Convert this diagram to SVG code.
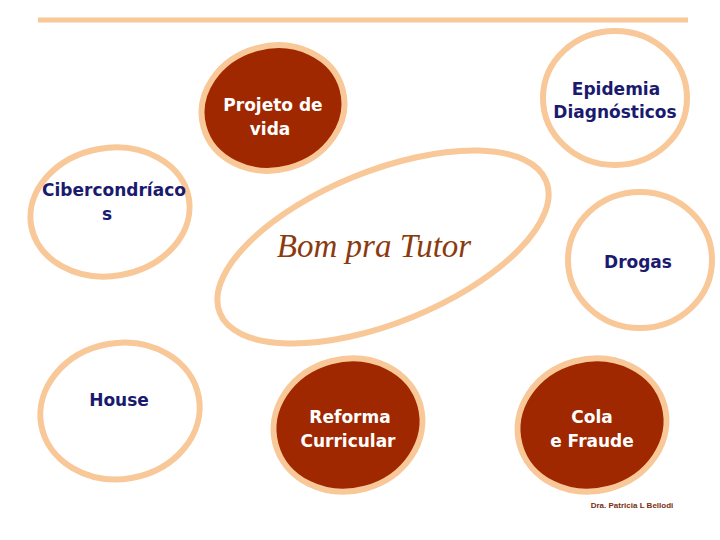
<svg xmlns="http://www.w3.org/2000/svg" width="720" height="540" viewBox="0 0 720 540">
<style>
.o{fill:#fff;stroke:#F8C898;stroke-width:6}
.f{fill:#A02800;stroke:#F8C898;stroke-width:6}
.t{font-family:Verdana,"DejaVu Sans",sans-serif;font-weight:bold;font-size:17px;text-anchor:middle}
.b{fill:#1A1A6E}.w{fill:#fff}
</style>
<rect width="720" height="540" fill="#fff"/>
<line x1="38" y1="20" x2="688" y2="20" stroke="#F8C898" stroke-width="5"/>
<g id="connectors"></g>
<g id="tutor"><ellipse class="o" cx="383" cy="247" rx="176" ry="76" transform="rotate(-22 383 247)"/>
<text x="374" y="257" font-family="'Liberation Serif',serif" font-style="italic" font-size="33" fill="#8B3A0E" text-anchor="middle">Bom pra Tutor</text></g>
<g id="projeto"><ellipse class="f" cx="273" cy="108" rx="72" ry="62" transform="rotate(-15 273 108)"/>
<text class="t w" x="273" y="111">Projeto de</text><text class="t w" x="270" y="135">vida</text></g>
<g id="epidemia"><ellipse class="o" cx="615" cy="98" rx="72" ry="67"/>
<text class="t b" x="616" y="95">Epidemia</text><text class="t b" x="615" y="118">Diagnósticos</text></g>
<g id="ciber"><ellipse class="o" cx="110" cy="212" rx="80" ry="64" transform="rotate(-10 110 212)"/>
<text class="t b" x="114" y="196">Cibercondríaco</text><text class="t b" x="107" y="220">s</text></g>
<g id="drogas"><ellipse class="o" cx="640" cy="260" rx="72" ry="68"/>
<text class="t b" x="638" y="268">Drogas</text></g>
<g id="house"><ellipse class="o" cx="120" cy="411" rx="80" ry="68" transform="rotate(-10 120 411)"/>
<text class="t b" x="119" y="406">House</text></g>
<g id="reforma"><ellipse class="f" cx="348" cy="425" rx="75" ry="66" transform="rotate(-15 348 425)"/>
<text class="t w" x="350" y="423">Reforma</text><text class="t w" x="348" y="447">Curricular</text></g>
<g id="cola"><ellipse class="f" cx="592" cy="425" rx="75" ry="66" transform="rotate(-15 592 425)"/>
<text class="t w" x="592" y="423">Cola</text><text class="t w" x="592" y="447">e Fraude</text></g>
<text x="632" y="508" font-family="'Liberation Sans',sans-serif" font-weight="bold" font-size="8" fill="#7A2E10" text-anchor="middle">Dra. Patricia L Bellodi</text>
</svg>
